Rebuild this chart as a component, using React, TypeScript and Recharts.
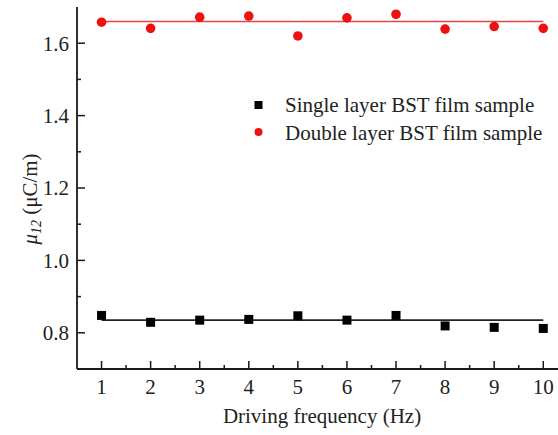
import React from "react"
import { ComposedChart, Scatter, Line, XAxis, YAxis } from "recharts"

// driving frequency (Hz)
const freq = [1, 2, 3, 4, 5, 6, 7, 8, 9, 10]
// mu12 (uC/m)
const singleLayer = [0.848, 0.829, 0.835, 0.837, 0.847, 0.835, 0.848, 0.819, 0.815, 0.812]
const doubleLayer = [1.658, 1.641, 1.672, 1.675, 1.620, 1.670, 1.680, 1.639, 1.646, 1.641]
// linear fits (flat)
const fitX = [1, 10]
const singleFit = [0.835, 0.835]
const doubleFit = [1.66, 1.66]

const xMajor = [1, 2, 3, 4, 5, 6, 7, 8, 9, 10]
const xMinor = [1.5, 2.5, 3.5, 4.5, 5.5, 6.5, 7.5, 8.5, 9.5]
const yMajor = [0.8, 1.0, 1.2, 1.4, 1.6]
const yMinor = [0.9, 1.1, 1.3, 1.5]

const singleData = freq.map((x, i) => ({ x, y: singleLayer[i] }))
const doubleData = freq.map((x, i) => ({ x, y: doubleLayer[i] }))
const singleFitData = fitX.map((x, i) => ({ x, y: singleFit[i] }))
const doubleFitData = fitX.map((x, i) => ({ x, y: doubleFit[i] }))

const FONT = "'Liberation Serif', 'Times New Roman', serif"
const AXIS = "#1a1a1a"
const RED = "#ee1111"

const XTick = (props: any) => {
  const { x, y, payload } = props
  const major = xMajor.includes(payload.value)
  return (
    <g>
      <line x1={x} x2={x} y1={y} y2={y - (major ? 8 : 4)} stroke={AXIS} strokeWidth={1.5} />
      {major && (
        <text x={x} y={y + 25} textAnchor="middle" fontFamily={FONT} fontSize={21} fill="#222">
          {payload.value}
        </text>
      )}
    </g>
  )
}

const YTick = (props: any) => {
  const { x, y, payload } = props
  const major = yMajor.some((v) => Math.abs(v - payload.value) < 1e-6)
  return (
    <g>
      <line x1={x} x2={x + (major ? 8 : 4)} y1={y} y2={y} stroke={AXIS} strokeWidth={1.5} />
      {major && (
        <text x={x - 8} y={y} dy="0.35em" textAnchor="end" fontFamily={FONT} fontSize={21} fill="#222">
          {payload.value.toFixed(1)}
        </text>
      )}
    </g>
  )
}

const squareShape = (props: any) => (
  <rect x={props.cx - 4.5} y={props.cy - 4.5} width={9} height={9} fill="#000" />
)
const circleShape = (props: any) => <circle cx={props.cx} cy={props.cy} r={4.8} fill={RED} />

function ChartLegend() {
  return (
    <svg width={300} height={60} style={{ position: "absolute", left: 250, top: 90 }}>
      <rect x={4.5} y={11} width={8} height={8} fill="#000" />
      <text x={35} y={22} fontFamily={FONT} fontSize={21} fill="#222">
        Single layer BST film sample
      </text>
      <circle cx={8.5} cy={42} r={4} fill={RED} />
      <text x={35} y={50} fontFamily={FONT} fontSize={21} fill="#222">
        Double layer BST film sample
      </text>
    </svg>
  )
}

export default function App() {
  return (
    <div style={{ position: "absolute", left: 0, top: 0, width: 558, height: 435, overflow: "hidden", background: "#fff" }}>
      <ComposedChart width={558} height={435} margin={{ top: 7, right: 0, bottom: 0, left: 0 }}>
        <XAxis
          xAxisId="top"
          orientation="top"
          type="number"
          dataKey="x"
          domain={[0.5, 10.3]}
          height={0}
          tick={false}
          tickLine={false}
          axisLine={{ stroke: AXIS, strokeWidth: 1.8 }}
        />
        <XAxis
          type="number"
          dataKey="x"
          domain={[0.5, 10.3]}
          allowDataOverflow
          ticks={[...xMajor, ...xMinor].sort((a, b) => a - b)}
          interval={0}
          height={66}
          tickSize={0}
          tickMargin={0}
          tickLine={false}
          tick={XTick}
          axisLine={{ stroke: AXIS, strokeWidth: 1.8 }}
          label={{
            content: () => (
              <text x={322} y={423} textAnchor="middle" fontFamily={FONT} fontSize={21} fill="#222">
                Driving frequency (Hz)
              </text>
            ),
          }}
        />
        <YAxis
          type="number"
          dataKey="y"
          domain={[0.7, 1.7]}
          allowDataOverflow
          ticks={[...yMajor, ...yMinor].sort((a, b) => a - b)}
          interval={0}
          width={77}
          tickSize={0}
          tickMargin={0}
          tickLine={false}
          tick={YTick}
          axisLine={{ stroke: AXIS, strokeWidth: 1.8 }}
          label={{
            content: () => (
              <text
                x={37}
                y={199}
                transform="rotate(-90, 37, 199)"
                textAnchor="middle"
                fontFamily={FONT}
                fontSize={21}
                fill="#222"
              >
                <tspan fontStyle="italic">μ</tspan>
                <tspan fontStyle="italic" fontSize={14} dy={4}>12</tspan>
                <tspan dy={-4}> (μC/m)</tspan>
              </text>
            ),
          }}
        />
        <Line data={doubleFitData} dataKey="y" stroke="#e04848" strokeWidth={1.6} dot={false} isAnimationActive={false} legendType="none" />
        <Line data={singleFitData} dataKey="y" stroke="#222" strokeWidth={1.6} dot={false} isAnimationActive={false} legendType="none" />
        <Scatter data={singleData} dataKey="y" shape={squareShape} isAnimationActive={false} />
        <Scatter data={doubleData} dataKey="y" shape={circleShape} isAnimationActive={false} />
      </ComposedChart>
      <ChartLegend />
    </div>
  )
}
